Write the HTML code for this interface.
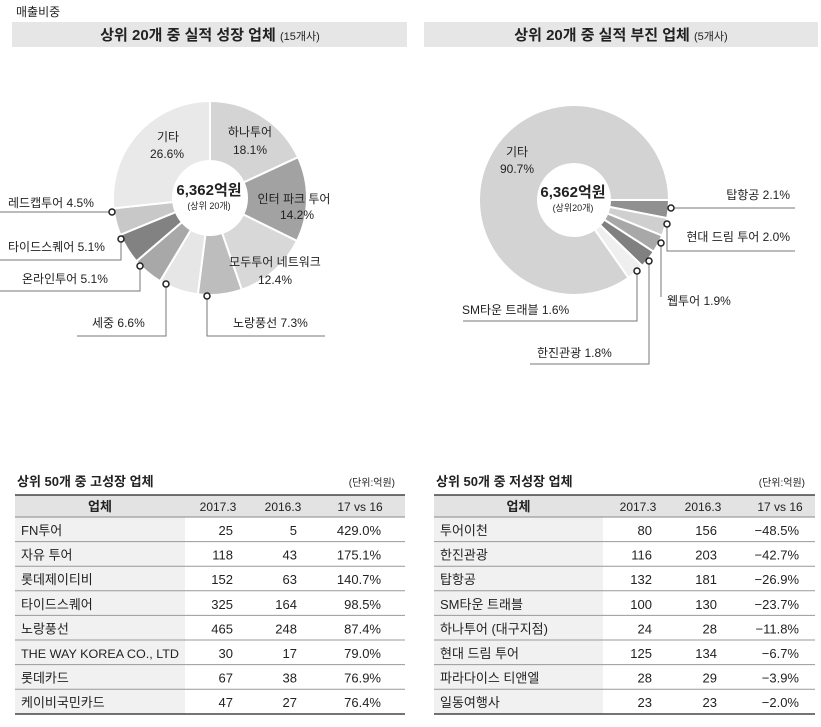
<!DOCTYPE html>
<html><head><meta charset="utf-8"><style>
body{margin:0;background:#fff;width:821px;height:722px;overflow:hidden;font-family:"Liberation Sans","Noto Sans CJK KR",sans-serif;color:#222}
svg text{font-family:"Liberation Sans","Noto Sans CJK KR",sans-serif;fill:#222}
</style></head><body>
<svg width="821" height="722" viewBox="0 0 821 722" xmlns="http://www.w3.org/2000/svg">
<text x="16" y="16" font-size="12">매출비중</text>
<rect x="12" y="22" width="395" height="25" fill="#e6e6e6"/>
<rect x="424" y="22" width="394" height="25" fill="#e6e6e6"/>
<text x="210" y="40" font-size="15" text-anchor="middle" font-weight="bold">상위 20개 중 실적 성장 업체 <tspan font-size="11" font-weight="normal">(15개사)</tspan></text>
<text x="621" y="40" font-size="15" text-anchor="middle" font-weight="bold">상위 20개 중 실적 부진 업체 <tspan font-size="11" font-weight="normal">(5개사)</tspan></text>
<g id="d1"></g><g id="d2"></g>
<g font-size="12">
<text x="168" y="141" text-anchor="middle">기타</text><text x="167" y="158" text-anchor="middle">26.6%</text>
<text x="250" y="136" text-anchor="middle">하나투어</text><text x="250" y="154" text-anchor="middle">18.1%</text>
<text x="294" y="203" text-anchor="middle">인터 파크 투어</text><text x="297" y="219" text-anchor="middle">14.2%</text>
<text x="275" y="266" text-anchor="middle">모두투어 네트워크</text><text x="275" y="284" text-anchor="middle">12.4%</text>
<text x="8" y="207">레드캡투어 4.5%</text>
<text x="8" y="251">타이드스퀘어 5.1%</text>
<text x="22" y="283">온라인투어 5.1%</text>
<text x="92" y="327">세중 6.6%</text>
<text x="233" y="327">노랑풍선 7.3%</text>
<text x="517" y="156" text-anchor="middle">기타</text><text x="517" y="173" text-anchor="middle">90.7%</text>
<text x="790" y="199" text-anchor="end">탑항공 2.1%</text>
<text x="790" y="241" text-anchor="end">현대 드림 투어 2.0%</text>
<text x="667" y="305">웹투어 1.9%</text>
<text x="537" y="357">한진관광 1.8%</text>
<text x="462" y="314">SM타운 트래블 1.6%</text>
</g>
<g fill="none" stroke="#777" stroke-width="1">
<polyline points="112,212 0,212"/>
<polyline points="121,239 121,260 0,260"/>
<polyline points="140,266 140,291 0,291"/>
<polyline points="166,284 166,336 77,336"/>
<polyline points="207,296 207,336 325,336"/>
<polyline points="671,208 795,208"/>
<polyline points="667,224 667,251 795,251"/>
<polyline points="661,243 661,297"/>
<polyline points="649,261 649,364 530,364"/>
<polyline points="637,271 637,321 463,321"/>
</g>
<g fill="#fff" stroke="#222" stroke-width="1.5">
<circle cx="112" cy="212" r="3"/><circle cx="121" cy="239" r="3"/><circle cx="140" cy="266" r="3"/><circle cx="166" cy="284" r="3"/><circle cx="207" cy="296" r="3"/>
<circle cx="671" cy="208" r="3"/><circle cx="667" cy="224" r="3"/><circle cx="661" cy="243" r="3"/><circle cx="649" cy="261" r="3"/><circle cx="637" cy="271" r="3"/>
</g>
<text x="209" y="195" font-size="15" font-weight="bold" text-anchor="middle">6,362억원</text>
<text x="209" y="209" font-size="9" text-anchor="middle">(상위 20개)</text>
<text x="573" y="197" font-size="15" font-weight="bold" text-anchor="middle">6,362억원</text>
<text x="573" y="211" font-size="9" text-anchor="middle">(상위20개)</text>
<g id="tables"></g>
</svg>
<script>
const NS="http://www.w3.org/2000/svg";
function el(p,t,a,txt){const e=document.createElementNS(NS,t);for(const k in a)e.setAttribute(k,a[k]);if(txt!==undefined)e.textContent=txt;p.appendChild(e);return e;}
function arc(cx,cy,R,r,a0,a1){const f=a=>[Math.sin(a*Math.PI/180),-Math.cos(a*Math.PI/180)];const [s0,c0]=f(a0),[s1,c1]=f(a1);const L=(a1-a0)>180?1:0;
return `M${cx+R*s0},${cy+R*c0}A${R},${R} 0 ${L} 1 ${cx+R*s1},${cy+R*c1}L${cx+r*s1},${cy+r*c1}A${r},${r} 0 ${L} 0 ${cx+r*s0},${cy+r*c0}Z`;}
const d1=document.getElementById('d1');
const segs=[[18.1,'#d4d4d4'],[14.2,'#a2a2a2'],[12.4,'#d8d8d8'],[7.3,'#bdbdbd'],[6.6,'#e6e6e6'],[5.1,'#a8a8a8'],[5.1,'#828282'],[4.5,'#c8c8c8'],[26.7,'#e9e9e9']];
let a=0;segs.forEach(([v,c])=>{const b=a+v*3.6;el(d1,'path',{d:arc(210,198,97,37,a,b),fill:c,stroke:'#fff','stroke-width':2});a=b;});
const d2=document.getElementById('d2');
const s2=[[90,101,'#909090'],[101,112,'#cfcfcf'],[112,123,'#a8a8a8'],[123,134,'#808080'],[134,145,'#efefef'],[145,450,'#d3d3d3']];
s2.forEach(([x,y,c])=>el(d2,'path',{d:arc(574,200,95,36,x,y),fill:c,stroke:'#fff','stroke-width':2}));
const T=document.getElementById('tables');
function table(x0,x1,bgEnd,title,cols,rows){
 el(T,'text',{x:x0+2,y:486,'font-size':13,'font-weight':'bold'},title);
 el(T,'text',{x:x1-10,y:486,'font-size':10,'text-anchor':'end'},'(단위:억원)');
 el(T,'rect',{x:x0,y:495,width:x1-x0,height:22,fill:'#e3e3e3'});
 el(T,'rect',{x:x0,y:517,width:bgEnd-x0,height:197,fill:'#f1f1f1'});
 el(T,'line',{x1:x0,x2:x1,y1:495,y2:495,stroke:'#222','stroke-width':1.2});
 el(T,'line',{x1:x0,x2:x1,y1:714,y2:714,stroke:'#222','stroke-width':1.2});
 el(T,'line',{x1:x0,x2:x1,y1:517,y2:517,stroke:'#888'});
 el(T,'text',{x:(x0+bgEnd)/2,y:511,'font-size':13,'font-weight':'bold','text-anchor':'middle'},'업체');
 const hc=['2017.3','2016.3','17 vs 16'];
 hc.forEach((h,i)=>el(T,'text',{x:cols[i][0],y:511,'font-size':12,'text-anchor':'middle'},h));
 rows.forEach((r,i)=>{const y=517+i*24.6;
  if(i>0)el(T,'line',{x1:x0,x2:x1,y1:y,y2:y,stroke:'#999'});
  const at={x:x0+6,y:y+18,'font-size':13};
  if(r[0].length>18){at['font-size']=12;at.textLength=158;at.lengthAdjust='spacingAndGlyphs';}
  el(T,'text',at,r[0]);
  for(let j=0;j<3;j++)el(T,'text',{x:cols[j][1],y:y+18,'font-size':13,'text-anchor':'end'},r[j+1]);
 });
}
table(15,405,185,'상위 50개 중 고성장 업체',[[218,233],[283,297],[360,381]],[
['FN투어','25','5','429.0%'],['자유 투어','118','43','175.1%'],['롯데제이티비','152','63','140.7%'],['타이드스퀘어','325','164','98.5%'],['노랑풍선','465','248','87.4%'],['THE WAY KOREA CO., LTD','30','17','79.0%'],['롯데카드','67','38','76.9%'],['케이비국민카드','47','27','76.4%']]);
table(434,815,603,'상위 50개 중 저성장 업체',[[638,652],[703,717],[780,799]],[
['투어이천','80','156','−48.5%'],['한진관광','116','203','−42.7%'],['탑항공','132','181','−26.9%'],['SM타운 트래블','100','130','−23.7%'],['하나투어 (대구지점)','24','28','−11.8%'],['현대 드림 투어','125','134','−6.7%'],['파라다이스 티앤엘','28','29','−3.9%'],['일동여행사','23','23','−2.0%']]);
</script>
</body></html>
